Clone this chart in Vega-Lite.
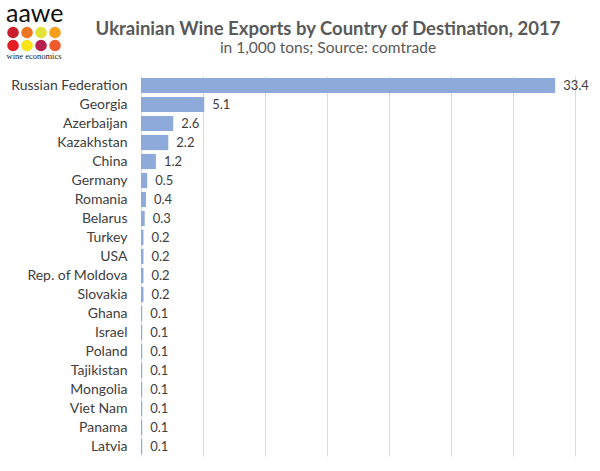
{
  "$schema": "https://vega.github.io/schema/vega-lite/v6.json",
  "autosize": "none",
  "padding": {"left": 141, "top": 76, "right": 25, "bottom": 15},
  "width": 434,
  "height": 380,
  "background": "white",
  "config": {
    "font": "Lato",
    "view": {"stroke": null}
  },
  "title": {
    "text": "Ukrainian Wine Exports by Country of Destination, 2017",
    "subtitle": "in 1,000 tons; Source: comtrade",
    "anchor": "middle",
    "frame": "group",
    "dx": -30,
    "offset": -55,
    "font": "Lato",
    "fontSize": 18.5,
    "fontWeight": "bold",
    "color": "#595959",
    "subtitleFont": "Lato",
    "subtitleFontSize": 15.5,
    "subtitleColor": "#595959",
    "subtitlePadding": 3
  },
  "resolve": {"scale": {"x": "independent", "y": "independent"}},
  "layer": [
    {
      "data": {"values": [
        {"country": "Russian Federation", "value": 33.4},
        {"country": "Georgia", "value": 5.1},
        {"country": "Azerbaijan", "value": 2.6},
        {"country": "Kazakhstan", "value": 2.2},
        {"country": "China", "value": 1.2},
        {"country": "Germany", "value": 0.5},
        {"country": "Romania", "value": 0.4},
        {"country": "Belarus", "value": 0.3},
        {"country": "Turkey", "value": 0.2},
        {"country": "USA", "value": 0.2},
        {"country": "Rep. of Moldova", "value": 0.2},
        {"country": "Slovakia", "value": 0.2},
        {"country": "Ghana", "value": 0.1},
        {"country": "Israel", "value": 0.1},
        {"country": "Poland", "value": 0.1},
        {"country": "Tajikistan", "value": 0.1},
        {"country": "Mongolia", "value": 0.1},
        {"country": "Viet Nam", "value": 0.1},
        {"country": "Panama", "value": 0.1},
        {"country": "Latvia", "value": 0.1}
      ]},
      "encoding": {
        "y": {
          "field": "country", "type": "nominal", "sort": null,
          "scale": {"paddingInner": 0.2, "paddingOuter": 0.1},
          "axis": {
            "title": null,
            "ticks": false, "domain": false, "labelPadding": 14,
            "labelFont": "Lato", "labelFontSize": 14, "labelColor": "#404040"
          }
        },
        "x": {
          "field": "value", "type": "quantitative",
          "scale": {"domain": [0, 35]},
          "axis": {
            "title": null, "labels": false, "ticks": false, "domain": false,
            "grid": true, "gridColor": "#d9d9d9", "values": [0, 5, 10, 15, 20, 25, 30, 35]
          }
        }
      },
      "layer": [
        {"mark": {"type": "bar", "color": "#8eaadb"}},
        {
          "mark": {"type": "text", "align": "left", "dx": 8, "fontSize": 13, "font": "Lato", "color": "#404040"},
          "encoding": {"text": {"field": "value", "type": "quantitative", "format": ".1f"}}
        }
      ]
    },
    {
      "data": {"values": [
        {"col": 1, "row": 1, "c": "#c8202f"},
        {"col": 2, "row": 1, "c": "#ee7623"},
        {"col": 3, "row": 1, "c": "#e3e236"},
        {"col": 4, "row": 1, "c": "#f6a01a"},
        {"col": 1, "row": 2, "c": "#e41e26"},
        {"col": 2, "row": 2, "c": "#f7e417"},
        {"col": 3, "row": 2, "c": "#b7204e"},
        {"col": 4, "row": 2, "c": "#ee5a2b"}
      ]},
      "encoding": {
        "x": {"field": "col", "type": "quantitative", "scale": {"domain": [10.14, 41.14]}, "axis": null},
        "y": {"field": "row", "type": "quantitative", "scale": {"domain": [4.346, 33.577], "reverse": true}, "axis": null}
      },
      "layer": [
        {
          "mark": {"type": "point", "filled": true, "shape": "circle", "size": 135, "opacity": 1},
          "encoding": {"color": {"field": "c", "type": "nominal", "scale": null}}
        },
        {
          "data": {"values": [{"col": 2.55, "row": 0.17, "t": "aawe"}]},
          "mark": {"type": "text", "align": "center", "baseline": "alphabetic", "fontSize": 25, "font": "Lato", "color": "#111111"},
          "encoding": {"text": {"field": "t"}}
        },
        {
          "data": {"values": [{"col": 2.5, "row": 3.04, "t": "wine economics"}]},
          "mark": {"type": "text", "align": "center", "baseline": "alphabetic", "fontSize": 8.5, "font": "Liberation Serif", "color": "#222222"},
          "encoding": {"text": {"field": "t"}}
        }
      ]
    }
  ]
}
